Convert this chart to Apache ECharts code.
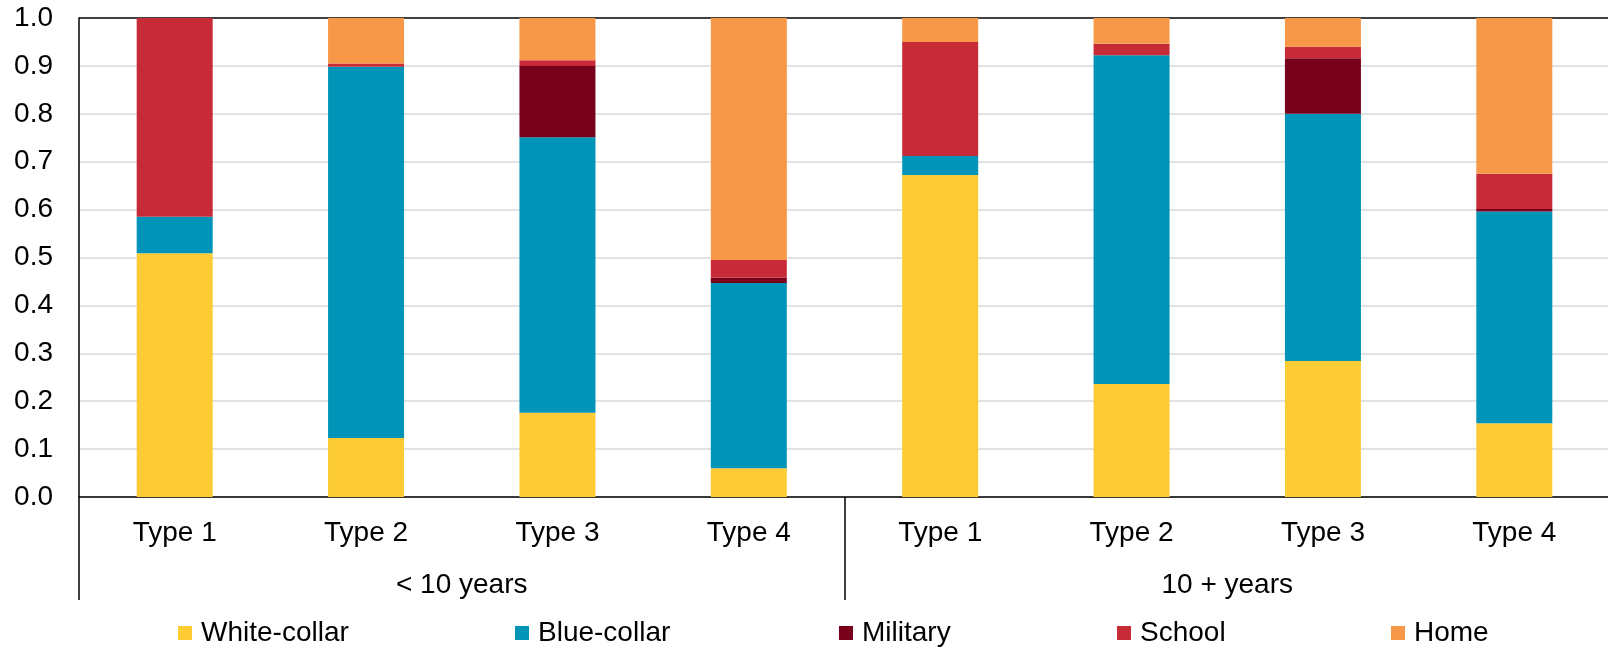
<!DOCTYPE html>
<html>
<head>
<meta charset="utf-8">
<title>Activity by type and residence</title>
<script src="https://cdn.jsdelivr.net/npm/echarts@6/dist/echarts.min.js"></script>
<style>
  html, body { margin: 0; padding: 0; background: #fff; }
  #chart { width: 1608px; height: 647px; }
</style>
</head>
<body>
<div id="chart"></div>
<script>
// Categories: types within each residence group
const typeLabels = ['Type 1', 'Type 2', 'Type 3', 'Type 4', 'Type 1', 'Type 2', 'Type 3', 'Type 4'];
const groupLabels = ['< 10 years', '10 + years'];

// Shares of each activity (stacked to 1.0)
const whiteCollar = [0.509, 0.123, 0.176, 0.060, 0.672, 0.236, 0.284, 0.154];
const blueCollar  = [0.076, 0.775, 0.575, 0.387, 0.040, 0.686, 0.516, 0.442];
const military    = [0.000, 0.000, 0.149, 0.011, 0.000, 0.000, 0.116, 0.005];
const school      = [0.415, 0.007, 0.012, 0.037, 0.238, 0.024, 0.024, 0.074];
const home        = [0.000, 0.095, 0.088, 0.505, 0.050, 0.054, 0.060, 0.325];

const seriesNames = ['White-collar', 'Blue-collar', 'Military', 'School', 'Home'];
const seriesData = [whiteCollar, blueCollar, military, school, home];
const seriesColors = ['#FDCB34', '#0094B9', '#78001A', '#C82B38', '#F79848'];

const FONT = 'Liberation Sans, Arial, sans-serif';
const FS = 28;

const chart = echarts.init(document.getElementById('chart'), null, { renderer: 'canvas' });

// One legend block per item so each can sit at its own horizontal slot
const legendLefts = [173, 510, 834, 1112, 1386];
const legends = seriesNames.map((name, i) => ({
  data: [name],
  left: legendLefts[i],
  top: 614,
  itemWidth: 14,
  itemHeight: 14,
  icon: 'rect',
  selectedMode: false,
  textStyle: { fontFamily: FONT, fontSize: FS, color: '#000', padding: [0, 0, 0, 4] }
}));

// Gray gridlines, with the top one (at 1.0) drawn black as the plot frame
const gridColors = ['#d9d9d9', '#d9d9d9', '#d9d9d9', '#d9d9d9', '#d9d9d9', '#d9d9d9',
                    '#d9d9d9', '#d9d9d9', '#d9d9d9', '#d9d9d9', '#000'];

const option = {
  animation: false,
  backgroundColor: '#fff',
  legend: legends,
  // plot area runs slightly past the right edge of the canvas
  grid: { left: 79, top: 18, width: 1531, height: 479, outerBoundsMode: 'none', containLabel: false },
  xAxis: [
    {
      type: 'category',
      data: typeLabels,
      position: 'bottom',
      axisLine: { show: true, lineStyle: { color: '#000', width: 1.5 } },
      axisTick: { show: false },
      axisLabel: { fontFamily: FONT, fontSize: FS, color: '#000', margin: 22, interval: 0 },
      splitLine: { show: false }
    },
    {
      type: 'category',
      data: groupLabels,
      position: 'bottom',
      axisLine: { show: false },
      axisTick: { show: true, length: 103, lineStyle: { color: '#000', width: 1.5 } },
      axisLabel: { fontFamily: FONT, fontSize: FS, color: '#000', margin: 74, interval: 0 },
      splitLine: { show: false }
    }
  ],
  yAxis: {
    type: 'value',
    min: 0,
    max: 1,
    interval: 0.1,
    axisLine: { show: true, lineStyle: { color: '#000', width: 1.5 } },
    axisTick: { show: false },
    axisLabel: {
      fontFamily: FONT, fontSize: FS, color: '#000', margin: 26,
      formatter: v => v.toFixed(1)
    },
    splitLine: { show: true, lineStyle: { color: gridColors, width: 1.5 } }
  },
  series: seriesNames.map((name, i) => ({
    name: name,
    type: 'bar',
    stack: 'total',
    xAxisIndex: 0,
    barWidth: 76,
    itemStyle: { color: seriesColors[i] },
    emphasis: { disabled: true },
    data: seriesData[i]
  }))
};

chart.setOption(option);
</script>
</body>
</html>
